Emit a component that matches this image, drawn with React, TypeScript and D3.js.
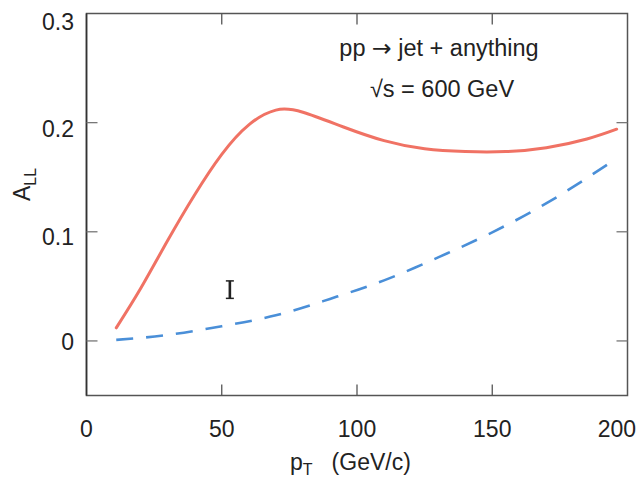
import React from "react";
import * as d3 from "d3";

const redPT = [11, 20, 30, 40, 50, 60, 70, 80, 95, 110, 125, 140, 155, 170, 185, 196];
const redALL = [0.012, 0.048, 0.092, 0.134, 0.171, 0.198, 0.2115, 0.2095, 0.196, 0.1835, 0.176, 0.1735, 0.1735, 0.177, 0.185, 0.194];

const bluePT = [11, 30, 50, 70, 90, 110, 130, 150, 172, 194];
const blueALL = [0.001, 0.0055, 0.0135, 0.0235, 0.0385, 0.0555, 0.0765, 0.0995, 0.129, 0.164];

const errPT = [53];
const errLo = [0.039];
const errHi = [0.055];

const xTicks = [0, 50, 100, 150, 200];
const yTicks = [0, 0.1, 0.2, 0.3];
const yTickLabels = ["0", "0.1", "0.2", "0.3"];

const W = 640;
const H = 477;
const FONT = "'Liberation Sans', Arial, Helvetica, sans-serif";

export default function App() {
  const x = d3.scaleLinear().domain([0, 200]).range([86.5, 627.5]);
  const y = d3.scaleLinear().domain([-0.05, 0.3]).range([395.5, 13.5]);

  const line = d3
    .line<[number, number]>()
    .x((d) => x(d[0]))
    .y((d) => y(d[1]))
    .curve(d3.curveNatural);

  const red = line(redPT.map((p, i) => [p, redALL[i]] as [number, number])) || "";
  const blue = line(bluePT.map((p, i) => [p, blueALL[i]] as [number, number])) || "";

  const x0 = x(0), x1 = x(200), yTop = y(0.3), yBot = y(-0.05);
  const tickLen = 11;
  const yLabelShift = [9, 13, 14.5, 16];

  return (
    <svg width={W} height={H} style={{ position: "absolute", left: 0, top: 0, background: "#fff" }}>
      {/* frame */}
      <rect x={x0} y={yTop} width={x1 - x0} height={yBot - yTop} fill="none" stroke="#555" strokeWidth={1.5} />
      <line x1={x0} x2={x0} y1={yTop} y2={yBot} stroke="#333" strokeWidth={1.6} />
      {/* x ticks (inner) */}
      {xTicks.slice(1, -1).map((t) => (
        <g key={"xt" + t}>
          <line x1={x(t)} x2={x(t)} y1={yBot} y2={yBot - tickLen} stroke="#555" strokeWidth={1.3} />
          <line x1={x(t)} x2={x(t)} y1={yTop} y2={yTop + tickLen} stroke="#555" strokeWidth={1.3} />
        </g>
      ))}
      {/* y ticks (inner) */}
      {yTicks.slice(0, -1).map((t) => (
        <g key={"yt" + t}>
          <line x1={x0} x2={x0 + tickLen} y1={y(t)} y2={y(t)} stroke="#777" strokeWidth={1.3} />
          <line x1={x1} x2={x1 - tickLen} y1={y(t)} y2={y(t)} stroke="#777" strokeWidth={1.3} />
        </g>
      ))}
      {/* x tick labels */}
      {xTicks.map((t, i) => (
        <text
          key={"xl" + t}
          x={i === xTicks.length - 1 ? 636 : x(t)}
          y={437}
          textAnchor={i === xTicks.length - 1 ? "end" : "middle"}
          fontFamily={FONT}
          fontSize={23}
          fill="#222"
        >
          {t}
        </text>
      ))}
      {/* y tick labels */}
      {yTicks.map((t, i) => (
        <text
          key={"yl" + t}
          x={74}
          y={y(t) + yLabelShift[i]}
          textAnchor="end"
          fontFamily={FONT}
          fontSize={23}
          fill="#222"
        >
          {yTickLabels[i]}
        </text>
      ))}
      {/* axis titles */}
      <text x={290} y={470} fontFamily={FONT} fontSize={23} fill="#222">
        p<tspan fontSize={16} dy={5}>T</tspan>
        <tspan dy={-5} dx={19}>(GeV/c)</tspan>
      </text>
      <text transform="translate(30,201) rotate(-90)" fontFamily={FONT} fontSize={23} fill="#222">
        A<tspan fontSize={16} dy={6}>LL</tspan>
      </text>
      {/* annotation */}
      <text x={439} y={56} textAnchor="middle" fontFamily={FONT} fontSize={23.5} fill="#222">
        pp <tspan fontFamily="'DejaVu Sans', sans-serif">→</tspan> jet + anything
      </text>
      <text x={442} y={97} textAnchor="middle" fontFamily={FONT} fontSize={23.5} fill="#222">
        √s = 600 GeV
      </text>
      {/* curves */}
      <path d={red} fill="none" stroke="#f07264" strokeWidth={3} strokeLinecap="round" />
      <path d={blue} fill="none" stroke="#4a8fd8" strokeWidth={2.6} strokeDasharray="17 13" />
      {/* error bar */}
      {errPT.map((p, i) => (
        <g key={"eb" + i} stroke="#222">
          <line x1={x(p)} x2={x(p)} y1={y(errLo[i])} y2={y(errHi[i])} strokeWidth={2.6} />
          <line x1={x(p) - 4} x2={x(p) + 4} y1={y(errLo[i])} y2={y(errLo[i])} strokeWidth={1.5} />
          <line x1={x(p) - 4} x2={x(p) + 4} y1={y(errHi[i])} y2={y(errHi[i])} strokeWidth={1.5} />
        </g>
      ))}
    </svg>
  );
}
